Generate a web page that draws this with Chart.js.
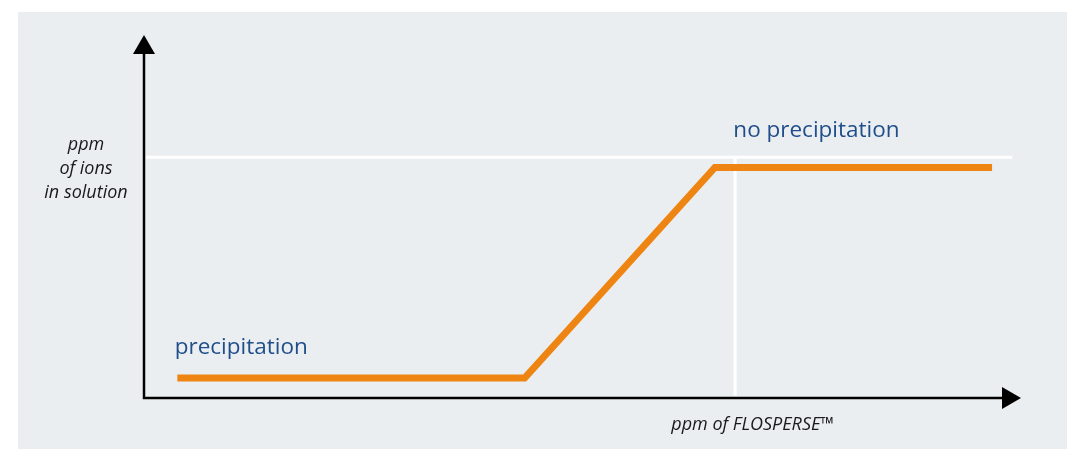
<!DOCTYPE html>
<html lang="en">
<head>
    <meta charset="UTF-8">
    <title>ppm of ions vs ppm of FLOSPERSE</title>
    <script src="https://cdn.jsdelivr.net/npm/chart.js@4/dist/chart.umd.min.js"></script>
    <style>
        html, body { margin: 0; padding: 0; background: #ffffff; }
        #wrap { width: 1067px; height: 449px; }
    </style>
</head>
<body>
    <div id="wrap"><canvas id="grafico" width="1067" height="449"></canvas></div>
<script>
    // curva de ions em solução (escala arbitraria 0-100)
    const curvaX = [3.8, 43.4, 65.1, 96.7];
    const curvaY = [5.5, 5.5, 63.5, 63.5];

    // linhas brancas de referencia
    const limiteX = [0.2, 99.0];
    const limiteY = [66.3, 66.3];
    const dosagemX = [67.4, 67.4];
    const dosagemY = [66.3, 0.7];

    // textos
    const rotulos = [
        { texto: 'no precipitation', x: 67.2, y: 73.6 },
        { texto: 'precipitation', x: 3.5, y: 14.0 }
    ];
    const tituloX = 'ppm of FLOSPERSE\u2122';
    const tituloY = ['ppm', 'of ions', 'in solution'];

    const pontos = (xs, ys) => xs.map((x, i) => ({ x: x, y: ys[i] }));

    const fundo = {
        id: 'fundo',
        beforeDraw(chart) {
            const ctx = chart.ctx;
            ctx.save();
            ctx.fillStyle = '#ebeef1';
            ctx.fillRect(18, 12, chart.width - 18, chart.height - 12);
            ctx.restore();
        }
    };

    const eixos = {
        id: 'eixos',
        afterDatasetsDraw(chart) {
            const ctx = chart.ctx;
            const a = chart.chartArea;
            const sx = chart.scales.x, sy = chart.scales.y;
            ctx.save();
            // eixos
            ctx.strokeStyle = '#000';
            ctx.lineWidth = 2.5;
            ctx.beginPath();
            ctx.moveTo(a.left, a.top + 16);
            ctx.lineTo(a.left, a.bottom);
            ctx.lineTo(a.right - 16, a.bottom);
            ctx.stroke();
            // setas
            ctx.fillStyle = '#000';
            ctx.beginPath();
            ctx.moveTo(a.left, a.top);
            ctx.lineTo(a.left - 11, a.top + 19);
            ctx.lineTo(a.left + 11, a.top + 19);
            ctx.closePath();
            ctx.fill();
            ctx.beginPath();
            ctx.moveTo(a.right, a.bottom);
            ctx.lineTo(a.right - 19, a.bottom - 11);
            ctx.lineTo(a.right - 19, a.bottom + 11);
            ctx.closePath();
            ctx.fill();

            // rotulos das regioes
            ctx.fillStyle = '#1f4e8a';
            ctx.font = '22.5px "Open Sans", "Noto Sans", sans-serif';
            ctx.textAlign = 'left';
            ctx.textBaseline = 'middle';
            rotulos.forEach(r => {
                ctx.fillText(r.texto, sx.getPixelForValue(r.x), sy.getPixelForValue(r.y));
            });

            // titulos dos eixos
            ctx.fillStyle = '#1a1a1a';
            ctx.font = 'italic 18px "Open Sans", "Noto Sans", sans-serif';
            ctx.textAlign = 'center';
            ctx.fillText(tituloX, sx.getPixelForValue(69.4), a.bottom + 27);
            tituloY.forEach((linha, i) => {
                ctx.fillText(linha, 86, 145 + i * 24);
            });
            ctx.restore();
        }
    };

    new Chart(document.getElementById('grafico'), {
        type: 'line',
        data: {
            datasets: [
                {
                    data: pontos(limiteX, limiteY),
                    borderColor: '#ffffff',
                    borderWidth: 3,
                    pointRadius: 0,
                    order: 2
                },
                {
                    data: pontos(dosagemX, dosagemY),
                    borderColor: '#ffffff',
                    borderWidth: 3,
                    pointRadius: 0,
                    order: 2
                },
                {
                    data: pontos(curvaX, curvaY),
                    borderColor: '#ee8512',
                    borderWidth: 7,
                    borderJoinStyle: 'miter',
                    borderCapStyle: 'butt',
                    pointRadius: 0,
                    tension: 0,
                    order: 1
                }
            ]
        },
        options: {
            responsive: false,
            animation: false,
            layout: { padding: { left: 144, right: 46, top: 35, bottom: 51 } },
            plugins: { legend: { display: false }, tooltip: { enabled: false } },
            scales: {
                x: { type: 'linear', min: 0, max: 100, display: false },
                y: { type: 'linear', min: 0, max: 100, display: false }
            }
        },
        plugins: [fundo, eixos]
    });
</script>
</body>
</html>
